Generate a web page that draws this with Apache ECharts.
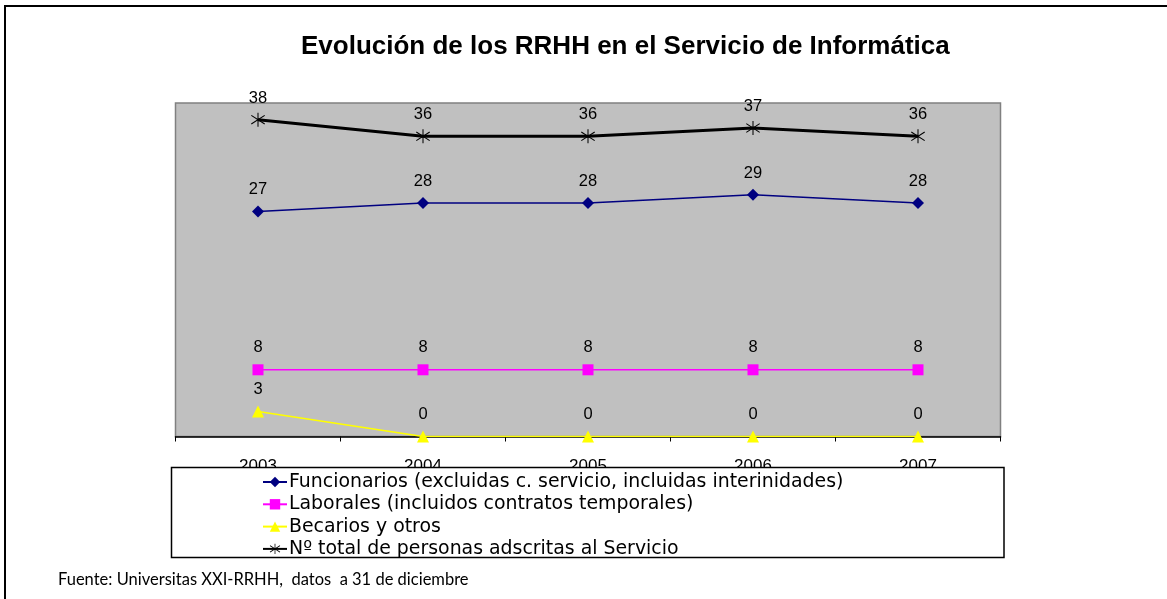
<!DOCTYPE html>
<html>
<head>
<meta charset="utf-8">
<script src="https://cdn.jsdelivr.net/npm/echarts@6/dist/echarts.min.js"></script>
<style>html,body{margin:0;padding:0;background:#fff}#c{width:1167px;height:599px}</style>
</head>
<body>
<div id="c"></div>
<script>
const years = ['2003', '2004', '2005', '2006', '2007'];
const funcionarios = [27, 28, 28, 29, 28];
const laborales = [8, 8, 8, 8, 8];
const becarios = [3, 0, 0, 0, 0];
const total = [38, 36, 36, 37, 36];
const seriesNames = [
  'Funcionarios (excluidas c. servicio, incluidas interinidades)',
  'Laborales (incluidos contratos temporales)',
  'Becarios y otros',
  'Nº total de personas adscritas al Servicio'
];
const titleText = 'Evolución de los RRHH en el Servicio de Informática';
const footerText = 'Fuente: Universitas XXI-RRHH,  datos  a 31 de diciembre';

const FONT = 'Liberation Sans';
const starPath = 'path://M9.3 0L10.7 0L10.7 20L9.3 20Z M0.5 4.4L1.3 3.2L19.5 15.6L18.7 16.8Z M18.7 3.2L19.5 4.4L1.3 16.8L0.5 15.6Z';

function lbl(dist) {
  return { show: true, position: 'top', distance: dist, color: '#000', fontFamily: FONT, fontSize: 16.5 };
}

const chart = echarts.init(document.getElementById('c'), null, { renderer: 'canvas' });
chart.setOption({
  animation: false,
  backgroundColor: '#fff',
  title: {
    text: titleText,
    left: 296, top: 29,
    textStyle: { fontFamily: FONT, fontSize: 26, fontWeight: 'bold', color: '#000' }
  },
  grid: {
    left: 175.5, right: 1167 - 1000.5, top: 103, bottom: 599 - 436.5,
    show: true, backgroundColor: '#C0C0C0', borderColor: '#808080', borderWidth: 1.5,
    containLabel: false
  },
  xAxis: {
    type: 'category', data: years, boundaryGap: true,
    axisLine: { show: true, lineStyle: { color: '#000', width: 1.5 } },
    axisTick: { show: true, length: 5, inside: false, lineStyle: { color: '#000', width: 1 } },
    axisLabel: { margin: 21, color: '#000', fontFamily: FONT, fontSize: 17 },
    splitLine: { show: false }
  },
  yAxis: {
    type: 'value', min: 0, max: 40, interval: 10,
    axisLine: { show: false }, axisTick: { show: false }, axisLabel: { show: false },
    splitLine: { show: false }
  },
  legend: {
    orient: 'vertical', left: 262, top: 472, z: 20,
    itemGap: 2.3, itemWidth: 24, itemHeight: 13,
    padding: 0,
    textStyle: { fontFamily: 'DejaVu Sans', fontSize: 18.9, color: '#000', padding: [0, 0, 0, -3], lineHeight: 20 },
    data: seriesNames
  },
  graphic: [
    { type: 'rect', z: 10, shape: { x: 5, y: 6, width: 1200, height: 620 },
      style: { fill: 'none', stroke: '#000', lineWidth: 2 }, silent: true },
    { type: 'rect', z: 15, shape: { x: 171.5, y: 467.5, width: 832.5, height: 90 },
      style: { fill: '#fff', stroke: '#000', lineWidth: 1.5 }, silent: true },
    { type: 'text', z: 15, left: 58, top: 571,
      style: { text: footerText, fontFamily: 'Lato', fontSize: 16.5, fill: '#000' } }
  ],
  series: [
    {
      name: seriesNames[0], type: 'line', data: funcionarios,
      symbol: 'diamond', symbolSize: 12, z: 3,
      lineStyle: { color: '#000080', width: 1.5 }, itemStyle: { color: '#000080' },
      label: lbl(7)
    },
    {
      name: seriesNames[1], type: 'line', data: laborales,
      symbol: 'rect', symbolSize: 11, z: 3,
      lineStyle: { color: '#FF00FF', width: 1.5 }, itemStyle: { color: '#FF00FF' },
      label: lbl(8)
    },
    {
      name: seriesNames[2], type: 'line', data: becarios,
      symbol: 'triangle', symbolSize: 12, z: 3,
      lineStyle: { color: '#FFFF00', width: 1.5 }, itemStyle: { color: '#FFFF00' },
      label: lbl(8)
    },
    {
      name: seriesNames[3], type: 'line', data: total,
      symbol: starPath, symbolSize: 14, z: 4,
      lineStyle: { color: '#000', width: 3 }, itemStyle: { color: '#000' },
      label: lbl(6)
    }
  ]
});
</script>
</body>
</html>
